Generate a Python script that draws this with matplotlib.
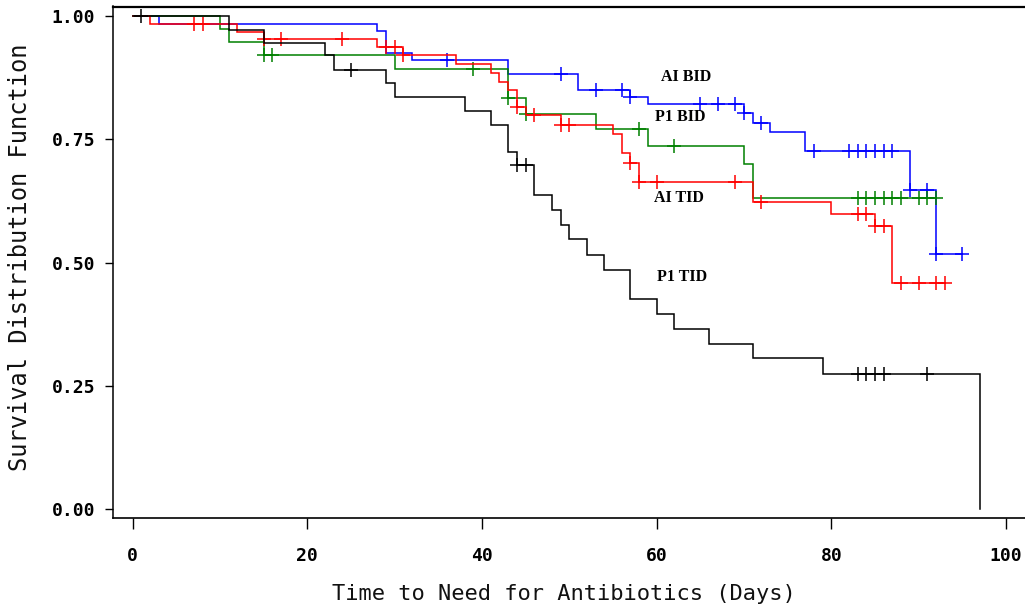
import matplotlib
matplotlib.use("Agg")
import matplotlib.pyplot as plt
import numpy as np

# ---------------- data ----------------
# AI BID (blue)
ai_bid_times = [0, 3, 28, 29, 32, 43, 51, 57, 59, 70, 71, 73, 77, 89, 92]
ai_bid_surv = [1.0, 0.984, 0.970, 0.925, 0.911, 0.882, 0.851, 0.836, 0.821,
               0.803, 0.784, 0.765, 0.727, 0.647, 0.517]
ai_bid_censor = [36, 49, 53, 56, 57, 65, 67, 69, 70, 72, 78, 82, 83, 84, 85,
                 86, 87, 89, 91, 92, 95]
ai_bid_end = 95

# P1 BID (green)
p1_bid_times = [0, 10, 11, 15, 30, 43, 45, 53, 59, 70, 71]
p1_bid_surv = [1.0, 0.973, 0.947, 0.921, 0.8925, 0.833, 0.801, 0.770, 0.7365,
               0.700, 0.632]
p1_bid_censor = [15, 16, 39, 43, 45, 58, 62, 83, 84, 85, 86, 87, 88, 90, 91, 92]
p1_bid_end = 92

# AI TID (red)
ai_tid_times = [0, 2, 12, 15, 28, 31, 37, 41, 42, 43, 44, 45, 49, 55, 56, 57,
                58, 71, 80, 85, 87]
ai_tid_surv = [1.0, 0.984, 0.968, 0.953, 0.937, 0.920, 0.9027, 0.884, 0.867,
               0.851, 0.816, 0.799, 0.780, 0.760, 0.723, 0.703, 0.664, 0.6235,
               0.599, 0.575, 0.459]
ai_tid_censor = [7, 8, 15, 17, 24, 29, 30, 31, 44, 46, 49, 50, 57, 58, 60, 69,
                 72, 83, 84, 85, 86, 88, 90, 92, 93]
ai_tid_end = 93

# P1 TID (black)
p1_tid_times = [0, 11, 15, 22, 23, 29, 30, 38, 41, 43, 44, 46, 48, 49, 50, 52,
                54, 57, 60, 62, 66, 71, 79, 97]
p1_tid_surv = [1.0, 0.972, 0.945, 0.920, 0.891, 0.864, 0.835, 0.808, 0.780,
               0.725, 0.698, 0.637, 0.607, 0.576, 0.547, 0.516, 0.486, 0.426,
               0.395, 0.366, 0.336, 0.306, 0.275, 0.0]
p1_tid_censor = [1, 25, 44, 45, 83, 84, 85, 86, 91]
p1_tid_end = 97

group_labels = ["AI BID", "P1 BID", "AI TID", "P1 TID"]
x_ticks = [0, 20, 40, 60, 80, 100]
y_ticks = [0.0, 0.25, 0.50, 0.75, 1.00]
y_tick_labels = ["0.00", "0.25", "0.50", "0.75", "1.00"]
x_title = "Time to Need for Antibiotics (Days)"
y_title = "Survival Distribution Function"

# ---------------- figure ----------------
W, H = 1025, 607
fig = plt.figure(figsize=(W / 100, H / 100), dpi=100)

left_px, right_px, top_px, bottom_px = 112.7, 1040.0, 6.5, 518.3
ax = fig.add_axes([left_px / W, 1 - bottom_px / H,
                   (right_px - left_px) / W, (bottom_px - top_px) / H])

x_per_px = 1 / 8.733
y_per_px = 1 / 493.3
x0_px, y0_px = 132.7, 509.3
ax.set_xlim((left_px - x0_px) * x_per_px, (right_px - x0_px) * x_per_px)
ax.set_ylim((y0_px - bottom_px) * y_per_px, (y0_px - top_px) * y_per_px)

groups = [
    (ai_bid_times, ai_bid_surv, ai_bid_censor, ai_bid_end, "#0000ff"),
    (p1_bid_times, p1_bid_surv, p1_bid_censor, p1_bid_end, "#008000"),
    (ai_tid_times, ai_tid_surv, ai_tid_censor, ai_tid_end, "#ff0000"),
    (p1_tid_times, p1_tid_surv, p1_tid_censor, p1_tid_end, "#000000"),
]

for times, surv, cens, end, col in groups:
    xs = list(times) + [end]
    ys = list(surv) + [surv[-1]]
    ax.step(xs, ys, where="post", color=col, lw=1.1, solid_joinstyle="miter")
    t = np.asarray(times)
    s = np.asarray(surv)
    idx = np.searchsorted(t, np.asarray(cens), side="right") - 1
    ax.plot(cens, s[idx], linestyle="none", marker="+", markersize=9.5,
            markeredgewidth=1.1, color=col)

# curve labels
label_pos = [(63.4, 0.877), (62.7, 0.796), (62.55, 0.631), (62.85, 0.4715)]
for txt, (lx, ly) in zip(group_labels, label_pos):
    ax.text(lx, ly, txt, ha="center", va="center", fontsize=11.5,
            fontweight="bold", family="Liberation Serif", color="black")

# axes styling
for side in ["right"]:
    ax.spines[side].set_visible(False)
ax.spines["left"].set_linewidth(1.1)
ax.spines["bottom"].set_linewidth(1.2)
ax.spines["top"].set_linewidth(1.6)

ax.set_xticks(x_ticks)
ax.set_xticklabels([str(v) for v in x_ticks])
ax.set_yticks(y_ticks)
ax.set_yticklabels(y_tick_labels)
ax.tick_params(axis="x", direction="out", length=8, width=1.0, pad=13,
               labelsize=13)
ax.tick_params(axis="y", direction="out", length=5.8, width=1.0, pad=7,
               labelsize=13)
for lab in ax.get_xticklabels() + ax.get_yticklabels():
    lab.set_family("DejaVu Sans Mono")
    lab.set_fontweight("bold")

fig.text(564 / W, 1 - 594 / H, x_title, ha="center", va="center",
         fontsize=15.8, family="DejaVu Sans Mono", color="#111111")
fig.text(20 / W, 1 - 257.5 / H, y_title, ha="center", va="center",
         rotation=90, fontsize=17, family="DejaVu Sans Mono", color="#111111")

fig.savefig("out.png", dpi=100)
